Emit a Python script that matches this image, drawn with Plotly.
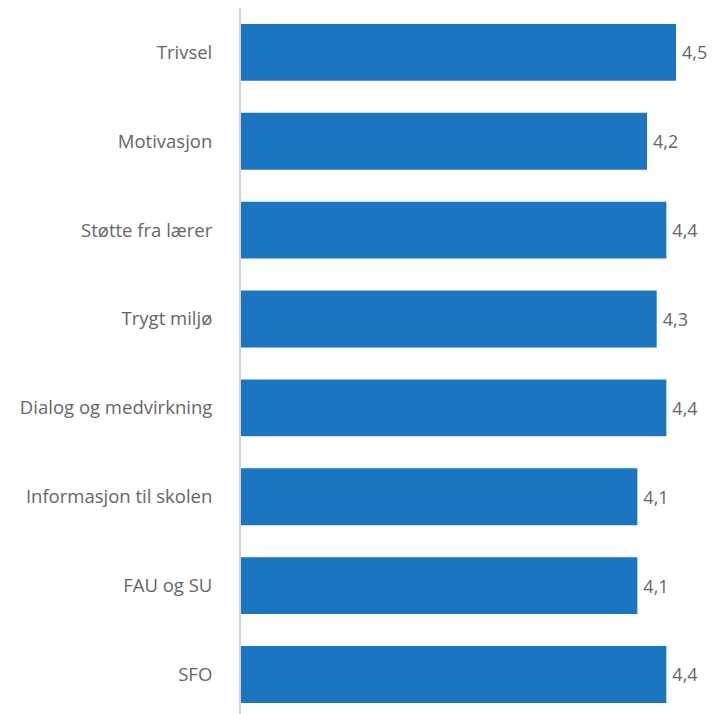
import plotly.graph_objects as go

categories = ["Trivsel", "Motivasjon", "Støtte fra lærer", "Trygt miljø",
              "Dialog og medvirkning", "Informasjon til skolen", "FAU og SU", "SFO"]
values = [4.5, 4.2, 4.4, 4.3, 4.4, 4.1, 4.1, 4.4]
labels = ["4,5", "4,2", "4,4", "4,3", "4,4", "4,1", "4,1", "4,4"]

FONT = "Open Sans"

fig = go.Figure(go.Bar(
    x=values, y=categories, orientation="h",
    marker=dict(color="#1c75c1", line=dict(width=0)),
    text=labels, texttemplate="\u2009%{text}", textposition="outside",
    textfont=dict(family=FONT, size=18, color="#666666"),
    cliponaxis=False,
    hoverinfo="skip",
))

fig.update_layout(
    width=712, height=714,
    margin=dict(l=241, r=0, t=8, b=0),
    paper_bgcolor="white", plot_bgcolor="white",
    bargap=0.36,
    showlegend=False,
    font=dict(family=FONT, size=18.5, color="#666666"),
    xaxis=dict(range=[0, 4.872], showgrid=False, zeroline=False,
               showticklabels=False, showline=False),
    yaxis=dict(type="category", range=[7.445, -0.5], showgrid=False,
               showline=True, linecolor="#c9d5e6", linewidth=2,
               ticks="", ticklabelstandoff=23,
               tickfont=dict(family=FONT, size=18.5, color="#666666")),
)

fig.write_html(
    "out.html",
    config={"displayModeBar": False},
    post_script="document.body.style.margin='0';document.body.style.overflow='hidden';",
)
